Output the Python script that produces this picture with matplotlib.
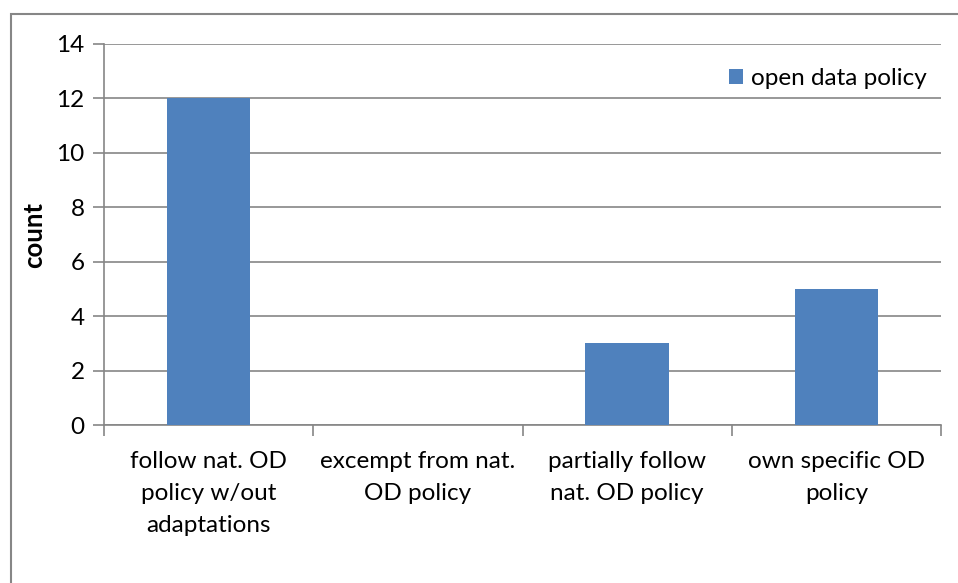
import matplotlib.pyplot as plt
from matplotlib.patches import Rectangle

categories = ["follow nat. OD\npolicy w/out\nadaptations",
              "excempt from nat.\nOD policy",
              "partially follow\nnat. OD policy",
              "own specific OD\npolicy"]
counts = [12, 0, 3, 5]
yticks = [0, 2, 4, 6, 8, 10, 12, 14]

plt.rcParams['font.family'] = ['Lato', 'DejaVu Sans']
grey = '#868686'
blue = '#4F81BD'

fig = plt.figure(figsize=(9.58, 5.83), dpi=100)
W, H = 958, 583

# outer chart border (only left/top edges visible in the crop)
fig.patches.append(Rectangle((11 / W, -0.1), 1.2, (H - 14) / H + 0.1,
                             transform=fig.transFigure, fill=False,
                             edgecolor=grey, linewidth=1.5))

ax = fig.add_axes([104 / W, (H - 425) / H, (941 - 104) / W, (425 - 44) / H])

x = range(len(categories))
ax.bar(x, counts, width=0.4, color=blue, label="open data policy", zorder=3)

ax.set_xlim(-0.5, len(categories) - 0.5)
ax.set_ylim(0, 14)
ax.set_yticks(yticks)
ax.yaxis.grid(True, color=grey, linewidth=1.2, zorder=0)

ax.set_xticks([i - 0.5 for i in range(len(categories) + 1)])
ax.set_xticklabels([])
ax.set_xticks(list(x), minor=True)
ax.set_xticklabels(categories, minor=True, fontsize=17.5, linespacing=1.63)
ax.tick_params(axis='x', which='minor', length=0, pad=19)
ax.tick_params(axis='x', which='major', length=8, width=1.2, color=grey)
ax.tick_params(axis='y', length=8, width=1.2, color=grey, labelsize=17.5, pad=6)

for s in ['top', 'right']:
    ax.spines[s].set_visible(False)
for s in ['left', 'bottom']:
    ax.spines[s].set_color(grey)
    ax.spines[s].set_linewidth(1.2)

ax.set_ylabel("count", fontsize=18.5, fontweight='bold', labelpad=7)

ax.legend(loc='upper right', bbox_to_anchor=(1.0, 0.975), frameon=False,
          fontsize=17.5, handlelength=0.6, handleheight=0.6, handletextpad=0.3,
          borderaxespad=0.2)

fig.savefig("out.png", dpi=100)
